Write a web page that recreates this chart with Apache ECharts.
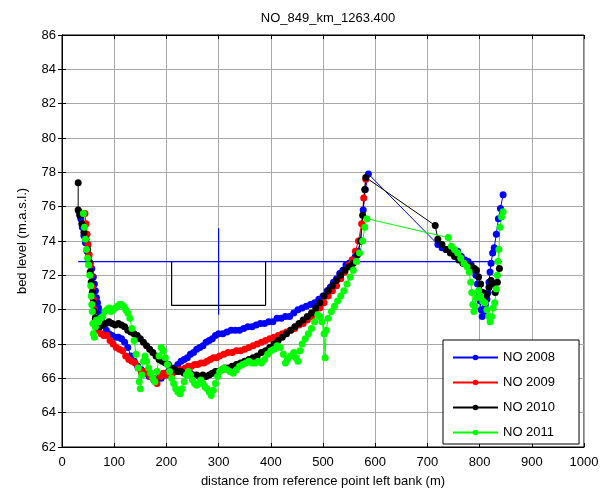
<!DOCTYPE html>
<html>
<head>
<meta charset="utf-8">
<script src="https://cdn.jsdelivr.net/npm/echarts@6/dist/echarts.min.js"></script>
<style>html,body{margin:0;padding:0;background:#fff}#c{width:611px;height:496px}</style>
</head>
<body>
<div id="c"></div>
<script>
const titleText = 'NO_849_km_1263.400';
const xName = 'distance from reference point left bank (m)';
const yName = 'bed level (m.a.s.l.)';
const seriesNames = ['NO 2008', 'NO 2009', 'NO 2010', 'NO 2011'];
const seriesColors = ['#0000ff', '#ff0000', '#000000', '#00ff00'];

const no2008 = [[33,75.7],[36,75.3],[39,74.8],[42,74.3],[45,73.9],[48,73.4],[51,73.1],[54,72.7],[57,72.4],[60,71.9],[62,71.5],[64,71.1],[66,70.7],[68,70.4],[70,70.1],[73,69.8],[76,69.4],[80,69.1],[85,68.8],[90,68.6],[96,68.5],[102,68.4],[108,68.4],[114,68.3],[120,68.1],[126,67.8],[132,67.3],[138,67.0],[145,66.7],[152,66.5],[160,66.3],[167,66.1],[175,66.0],[182,65.9],[190,66.0],[197,66.2],[204,66.4],[210,66.5],[216,66.6],[222,66.8],[228,67.0],[234,67.1],[240,67.2],[246,67.4],[252,67.5],[258,67.7],[264,67.8],[270,67.9],[276,68.1],[282,68.2],[288,68.3],[294,68.5],[300,68.6],[308,68.6],[316,68.7],[324,68.8],[332,68.8],[340,68.8],[348,68.9],[356,69.0],[364,69.0],[372,69.1],[380,69.2],[388,69.2],[396,69.3],[404,69.3],[412,69.5],[420,69.5],[428,69.6],[436,69.6],[444,69.8],[452,70.0],[460,70.1],[468,70.2],[476,70.3],[484,70.4],[492,70.6],[500,70.8],[508,71.1],[514,71.3],[520,71.6],[526,71.8],[532,72.1],[538,72.3],[544,72.6],[550,72.7],[556,72.9],[562,73.1],[567,73.4],[572,74.0],[577,75.8],[581,77.0],[587,77.9],[720,73.8],[728,73.6],[736,73.5],[744,73.5],[751,73.4],[758,73.4],[765,73.1],[772,72.9],[778,72.8],[784,72.6],[789,72.3],[793,72.0],[796,71.5],[799,71.0],[801,70.5],[803,70.0],[805,69.6],[808,69.9],[811,70.3],[814,70.6],[816,71.0],[818,71.6],[820,72.2],[822,72.7],[825,73.3],[828,73.6],[832,74.4],[836,75.3],[840,75.9],[845,76.7]];

const no2009 = [[44,75.6],[46,75.0],[48,74.4],[50,73.8],[52,73.2],[54,72.6],[56,72.0],[58,71.3],[60,70.6],[62,70.0],[64,69.5],[66,69.0],[70,68.8],[75,68.6],[80,68.5],[86,68.5],[92,68.2],[98,68.0],[104,67.8],[110,67.7],[116,67.6],[122,67.3],[128,67.1],[134,67.0],[140,66.9],[146,66.6],[152,66.4],[158,66.4],[164,66.3],[170,66.1],[176,65.9],[182,65.7],[188,66.1],[194,66.3],[200,66.2],[206,66.3],[212,66.3],[218,66.4],[224,66.5],[230,66.5],[236,66.6],[242,66.7],[248,66.7],[254,66.8],[260,66.8],[266,66.9],[272,66.9],[278,67.0],[284,67.1],[290,67.2],[296,67.2],[302,67.3],[310,67.4],[318,67.5],[326,67.5],[334,67.6],[342,67.6],[350,67.7],[358,67.8],[366,67.9],[374,68.0],[382,68.1],[390,68.2],[398,68.3],[406,68.4],[414,68.5],[422,68.6],[430,68.7],[438,68.8],[446,68.9],[454,69.1],[462,69.2],[470,69.4],[478,69.6],[486,69.8],[494,70.1],[502,70.4],[510,70.8],[518,71.1],[526,71.4],[534,71.8],[542,72.2],[550,72.6],[556,72.9],[562,73.4],[568,74.0],[574,75.0],[578,76.5],[582,77.6]];

const no2010 = [[31,77.4],[31,75.8],[34,75.5],[38,75.0],[42,74.5],[46,74.1],[49,73.5],[52,72.8],[54,72.2],[56,71.6],[58,71.0],[60,70.4],[62,69.9],[64,69.5],[67,69.1],[72,69.0],[78,69.1],[84,69.2],[90,69.3],[96,69.2],[102,69.1],[108,69.2],[114,69.1],[120,69.0],[126,68.8],[132,68.7],[138,68.6],[144,68.5],[150,68.3],[156,68.1],[162,67.9],[168,67.7],[174,67.5],[180,67.3],[186,67.1],[192,67.0],[198,66.9],[204,66.8],[210,66.6],[216,66.5],[222,66.4],[228,66.4],[234,66.3],[240,66.3],[246,66.3],[252,66.2],[258,66.2],[264,66.1],[270,66.2],[276,66.1],[282,66.2],[288,66.3],[294,66.4],[300,66.4],[306,66.5],[312,66.6],[318,66.6],[326,66.7],[334,66.8],[342,66.9],[350,67.0],[358,67.1],[366,67.2],[374,67.3],[382,67.5],[390,67.6],[398,67.8],[406,68.0],[414,68.2],[422,68.4],[430,68.6],[438,68.8],[446,69.0],[454,69.2],[462,69.4],[470,69.6],[478,69.8],[486,70.1],[494,70.4],[502,70.8],[510,71.1],[518,71.4],[526,71.7],[534,72.0],[542,72.3],[550,72.5],[558,72.7],[566,73.2],[572,74.0],[576,75.5],[580,77.0],[582,77.7],[715,74.9],[720,74.1],[728,73.8],[736,73.5],[744,73.3],[752,73.1],[760,72.9],[768,72.7],[776,72.6],[784,72.5],[790,72.4],[794,72.3],[798,71.9],[802,71.5],[806,71.0],[810,70.5],[814,70.9],[818,71.3],[822,71.7],[826,71.5],[830,71.0],[834,71.6],[838,72.4]];

const no2011 = [[41,75.6],[43,74.8],[45,74.1],[47,73.5],[49,73.0],[51,72.6],[53,72.0],[55,71.4],[56,70.8],[57,70.3],[58,69.9],[59,69.2],[60,68.6],[62,68.4],[64,69.0],[66,69.4],[70,69.3],[74,69.5],[78,69.6],[82,69.9],[86,70.0],[90,70.1],[94,69.9],[98,70.0],[102,70.1],[106,70.2],[110,70.3],[114,70.3],[118,70.2],[122,70.0],[126,69.8],[130,69.5],[134,68.9],[138,68.2],[142,67.4],[146,66.6],[148,65.8],[150,65.4],[153,66.2],[156,67.0],[159,67.3],[162,67.0],[166,66.6],[170,66.3],[174,66.0],[178,65.8],[182,66.4],[186,67.3],[190,67.8],[194,67.6],[198,67.2],[202,66.8],[206,66.4],[210,66.0],[214,65.7],[218,65.4],[222,65.2],[226,65.1],[230,65.4],[234,65.8],[238,66.2],[242,66.4],[246,66.2],[250,65.9],[254,65.7],[258,65.6],[262,65.7],[266,65.9],[270,65.7],[274,65.5],[278,65.4],[282,65.2],[286,65.0],[290,65.3],[294,65.7],[298,66.1],[302,66.4],[306,66.5],[310,66.6],[316,66.5],[322,66.4],[328,66.3],[334,66.5],[340,66.7],[346,66.8],[352,66.9],[358,67.0],[364,66.9],[370,66.9],[376,67.0],[382,66.9],[388,67.1],[394,67.4],[400,67.6],[406,67.7],[412,67.9],[418,67.8],[424,67.4],[428,66.9],[432,67.1],[438,67.3],[444,67.5],[448,67.2],[452,67.0],[456,67.6],[460,68.0],[466,68.3],[472,68.6],[478,68.9],[484,69.3],[490,69.7],[494,69.6],[498,69.3],[502,68.6],[504,67.2],[506,68.8],[510,69.5],[516,69.9],[522,70.2],[528,70.5],[534,70.8],[540,71.1],[546,71.5],[552,71.9],[558,72.3],[564,72.8],[570,73.3],[576,74.0],[580,74.8],[584,75.3],[740,74.2],[746,73.7],[752,73.5],[758,73.3],[764,73.0],[770,72.7],[776,72.5],[780,72.2],[783,71.6],[785,71.0],[787,70.3],[789,69.9],[791,70.2],[794,70.7],[798,71.1],[802,70.8],[806,70.5],[810,70.4],[814,70.0],[818,69.6],[820,69.3],[823,69.6],[826,70.1],[829,70.4],[832,71.2],[834,72.0],[835,72.8],[837,73.5],[839,74.8],[842,75.4],[845,75.7]];

const waterLevel = [[31,72.8],[843,72.8]];
const axisMarker = [[300,74.75],[300,69.7]];
const channelBox = [[210,72.8],[210,70.25],[390,70.25],[390,72.8]];

const xMin = 0, xMax = 1000, xStep = 100;
const yMin = 62, yMax = 86, yStep = 2;

const FONT = '"Liberation Sans", Arial, sans-serif';
const chart = echarts.init(document.getElementById('c'), null, {renderer: 'canvas'});

function profile(name, data, color) {
  return {
    name: name, type: 'line', data: data, xAxisIndex: 0, yAxisIndex: 0,
    symbol: 'circle', symbolSize: 7, showSymbol: true,
    lineStyle: {color: color, width: 1},
    itemStyle: {color: color},
    emphasis: {disabled: true}, animation: false, z: 3
  };
}
function plain(data, color) {
  return {
    type: 'line', data: data, symbol: 'none', xAxisIndex: 0, yAxisIndex: 0,
    lineStyle: {color: color, width: 1.2}, silent: true, animation: false, z: 2
  };
}

const axisCommon = {
  axisLine: {show: true, lineStyle: {color: '#000', width: 1}},
  axisTick: {show: true, inside: true, length: 4, lineStyle: {color: '#000'}},
  axisLabel: {color: '#000', fontSize: 13, fontFamily: FONT},
};

chart.setOption({
  backgroundColor: '#fff',
  animation: false,
  title: {
    text: titleText, left: 323, top: 7, textAlign: 'center',
    textStyle: {fontSize: 13, fontWeight: 'normal', color: '#000', fontFamily: FONT}
  },
  grid: {left: 62, right: 27, top: 35, bottom: 49, show: true, borderColor: '#000', borderWidth: 1, backgroundColor: '#fff'},
  legend: {
    data: seriesNames, orient: 'vertical', left: 443, top: 340,
    itemWidth: 45, itemHeight: 7, itemGap: 10,
    padding: [10, 24, 4, 9],
    backgroundColor: '#fff', borderColor: '#000', borderWidth: 1,
    textStyle: {fontSize: 13, color: '#000', fontFamily: FONT, lineHeight: 15},
    selectedMode: false
  },
  xAxis: [
    Object.assign({}, axisCommon, {
      type: 'value', min: xMin, max: xMax, interval: xStep, position: 'bottom',
      name: xName, nameLocation: 'middle', nameGap: 28,
      nameTextStyle: {fontSize: 13, color: '#000', fontFamily: FONT},
      axisLabel: {color: '#000', fontSize: 13, fontFamily: FONT, margin: 9, formatter: v => String(v)},
      splitLine: {show: true, lineStyle: {color: '#a8a8a8', width: 1}}
    }),
    Object.assign({}, axisCommon, {
      type: 'value', min: xMin, max: xMax, interval: xStep, position: 'top',
      axisLabel: {show: false}, splitLine: {show: false}
    })
  ],
  yAxis: [
    Object.assign({}, axisCommon, {
      type: 'value', min: yMin, max: yMax, interval: yStep, position: 'left',
      name: yName, nameLocation: 'middle', nameGap: 33, nameRotate: 90,
      nameTextStyle: {fontSize: 13, color: '#000', fontFamily: FONT},
      axisLabel: {color: '#000', fontSize: 13, fontFamily: FONT, margin: 6},
      splitLine: {show: true, lineStyle: {color: '#a8a8a8', width: 1}}
    }),
    Object.assign({}, axisCommon, {
      type: 'value', min: yMin, max: yMax, interval: yStep, position: 'right',
      axisLabel: {show: false}, splitLine: {show: false}
    })
  ],
  series: [
    plain(waterLevel, '#0000ff'),
    plain(axisMarker, '#0000ff'),
    plain(channelBox, '#000000'),
    profile(seriesNames[0], no2008, seriesColors[0]),
    profile(seriesNames[1], no2009, seriesColors[1]),
    profile(seriesNames[2], no2010, seriesColors[2]),
    profile(seriesNames[3], no2011, seriesColors[3])
  ]
});
</script>
</body>
</html>
